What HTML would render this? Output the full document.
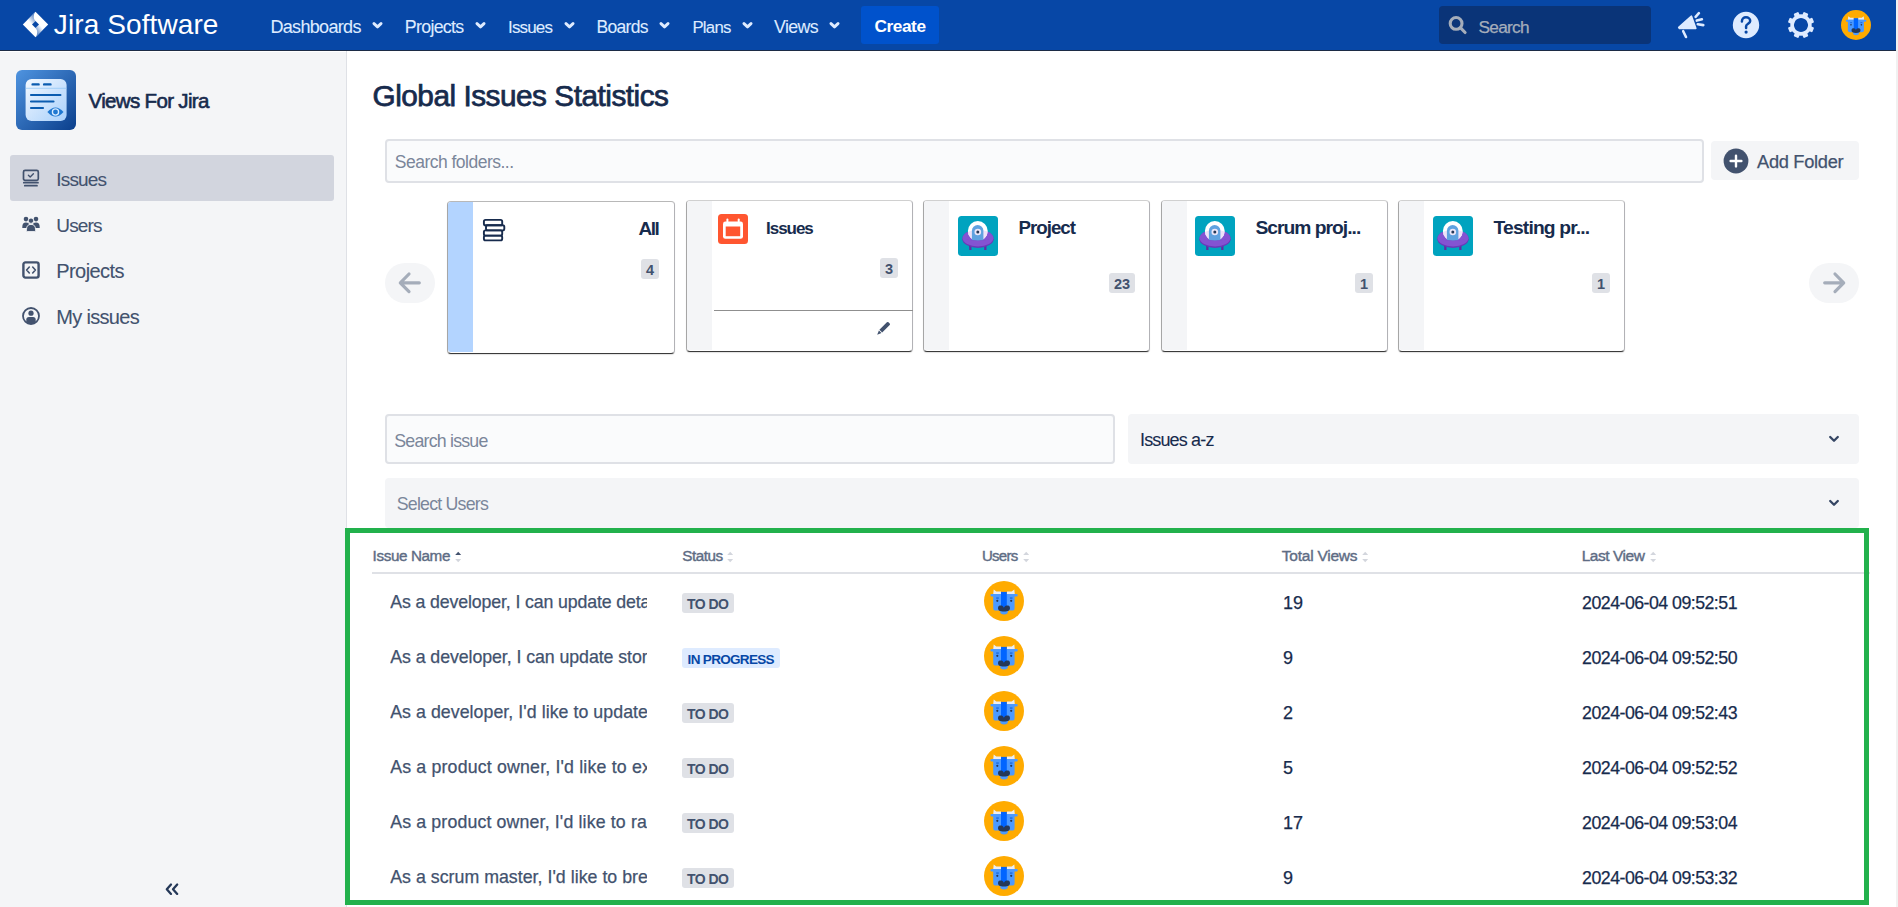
<!DOCTYPE html>
<html><head><meta charset="utf-8"><title>Global Issues Statistics</title>
<style>
html,body{margin:0;padding:0;}
body{width:1898px;height:907px;overflow:hidden;position:relative;background:#fff;font-family:"Liberation Sans", sans-serif;}
.b{position:absolute;display:block;}
.t{position:absolute;white-space:nowrap;line-height:1;}
</style></head><body>
<div class="b" style="left:0px;top:0px;width:1896px;height:50px;background:#0747A6;"></div><div class="b" style="left:0px;top:50px;width:1896px;height:1px;background:#1c2b45;"></div><div class="b" style="left:1896px;top:0px;width:2px;height:907px;background:#f1f1f1;"></div><svg class="b" style="left:21px;top:10px" width="30" height="30" viewBox="21 10 30 30">
<defs>
<linearGradient id="jg1" gradientUnits="userSpaceOnUse" x1="35.2" y1="17.5" x2="29.5" y2="22"><stop offset="0" stop-color="#0747A6" stop-opacity="0.6"/><stop offset="1" stop-color="#0747A6" stop-opacity="0"/></linearGradient>
<linearGradient id="jg2" gradientUnits="userSpaceOnUse" x1="35.8" y1="31.5" x2="41.5" y2="27"><stop offset="0" stop-color="#0747A6" stop-opacity="0.6"/><stop offset="1" stop-color="#0747A6" stop-opacity="0"/></linearGradient>
</defs>
<polygon points="35.5,11.8 48.2,24.5 35.5,37.2 22.8,24.5" fill="#fff"/>
<path d="M35.5 11.8 C33.2 14.5 33.2 18.6 35.5 21 L32 24.5 L22.8 24.5 Z" fill="url(#jg1)"/>
<path d="M35.5 37.2 C37.8 34.5 37.8 30.4 35.5 28 L39 24.5 L48.2 24.5 Z" fill="url(#jg2)"/>
<polygon points="35.5,21 39,24.5 35.5,28 32,24.5" fill="#0747A6"/>
</svg><svg class="b" style="left:372px;top:20px" width="12" height="10" viewBox="0 0 12 10"><path d="M2 3.6 L5.5 6.9 L9 3.6" fill="none" stroke="#DEEBFF" stroke-width="2.9" stroke-linecap="round" stroke-linejoin="round"/></svg><svg class="b" style="left:475px;top:20px" width="12" height="10" viewBox="0 0 12 10"><path d="M2 3.6 L5.5 6.9 L9 3.6" fill="none" stroke="#DEEBFF" stroke-width="2.9" stroke-linecap="round" stroke-linejoin="round"/></svg><svg class="b" style="left:563.7px;top:20px" width="12" height="10" viewBox="0 0 12 10"><path d="M2 3.6 L5.5 6.9 L9 3.6" fill="none" stroke="#DEEBFF" stroke-width="2.9" stroke-linecap="round" stroke-linejoin="round"/></svg><svg class="b" style="left:659.2px;top:20px" width="12" height="10" viewBox="0 0 12 10"><path d="M2 3.6 L5.5 6.9 L9 3.6" fill="none" stroke="#DEEBFF" stroke-width="2.9" stroke-linecap="round" stroke-linejoin="round"/></svg><svg class="b" style="left:741.7px;top:20px" width="12" height="10" viewBox="0 0 12 10"><path d="M2 3.6 L5.5 6.9 L9 3.6" fill="none" stroke="#DEEBFF" stroke-width="2.9" stroke-linecap="round" stroke-linejoin="round"/></svg><svg class="b" style="left:828.6px;top:20px" width="12" height="10" viewBox="0 0 12 10"><path d="M2 3.6 L5.5 6.9 L9 3.6" fill="none" stroke="#DEEBFF" stroke-width="2.9" stroke-linecap="round" stroke-linejoin="round"/></svg><div class="b" style="left:861px;top:6px;width:78px;height:38px;background:#0052CC;border-radius:3px;"></div><div class="b" style="left:1439px;top:6px;width:212px;height:38px;background:#0a3478;border-radius:4px;"></div><svg class="b" style="left:1446px;top:14px" width="22" height="22" viewBox="0 0 22 22"><circle cx="10.1" cy="9.4" r="5.9" fill="none" stroke="#A5ADBA" stroke-width="3.1"/><path d="M14.6 13.9 L19.1 18.5" stroke="#A5ADBA" stroke-width="3.1" stroke-linecap="round"/></svg><svg class="b" style="left:1674px;top:8px" width="34" height="34" viewBox="1674 8 34 34">
<path d="M1678.9 27.4 L1691.3 16.4 L1695.6 28.3 L1679.6 28.3 Z" fill="#DEEBFF" stroke="#DEEBFF" stroke-width="2" stroke-linejoin="round"/>
<path d="M1683.2 31.2 L1686 37" stroke="#DEEBFF" stroke-width="2.6" stroke-linecap="round"/>
<path d="M1695.6 16.8 L1698.9 13.1 M1696.8 20.6 L1701.9 19.3 M1697.8 24.3 L1703.3 25.1" stroke="#DEEBFF" stroke-width="2.6" stroke-linecap="round"/>
</svg><svg class="b" style="left:1729px;top:8px" width="34" height="34" viewBox="1729 8 34 34">
<circle cx="1746" cy="25" r="13.2" fill="#DEEBFF"/>
<path d="M1741.9 21.4 C1741.9 18.8 1743.8 17.3 1746 17.3 C1748.4 17.3 1750.2 18.9 1750.2 21 C1750.2 23.6 1746.1 24 1746.1 26.3 L1746.1 27.9" fill="none" stroke="#0747A6" stroke-width="2.5" stroke-linecap="round"/>
<circle cx="1746.1" cy="32.1" r="1.6" fill="#0747A6"/>
</svg><svg class="b" style="left:1784px;top:8px" width="34" height="34" viewBox="-17 -17 34 34">
<g fill="#DEEBFF"><rect x="-2.6" y="-13.2" width="5.2" height="6" rx="1" transform="rotate(22.5)"/><rect x="-2.6" y="-13.2" width="5.2" height="6" rx="1" transform="rotate(67.5)"/><rect x="-2.6" y="-13.2" width="5.2" height="6" rx="1" transform="rotate(112.5)"/><rect x="-2.6" y="-13.2" width="5.2" height="6" rx="1" transform="rotate(157.5)"/><rect x="-2.6" y="-13.2" width="5.2" height="6" rx="1" transform="rotate(202.5)"/><rect x="-2.6" y="-13.2" width="5.2" height="6" rx="1" transform="rotate(247.5)"/><rect x="-2.6" y="-13.2" width="5.2" height="6" rx="1" transform="rotate(292.5)"/><rect x="-2.6" y="-13.2" width="5.2" height="6" rx="1" transform="rotate(337.5)"/></g>
<circle cx="0" cy="0" r="8.9" fill="none" stroke="#DEEBFF" stroke-width="3.6"/>
</svg><svg class="b" style="left:1841px;top:10px" width="30" height="30" viewBox="0 0 40 40"><circle cx="20" cy="20" r="20" fill="#FFAB00"/>
<path d="M9.2 13.2 L9.7 8.4 L12.3 10.4 L17 10.4 L17 13.2 Z M30.8 13.2 L30.3 8.4 L27.7 10.4 L23 10.4 L23 13.2 Z" fill="#EBECF0"/>
<rect x="6.5" y="13" width="27.2" height="2.6" rx="1" fill="#4C9AFF"/>
<path d="M9.2 13 H30.6 V27 Q30.6 29.6 28 29.6 H12 Q9.2 29.6 9.2 27 Z" fill="#4C9AFF"/>
<rect x="17" y="10.9" width="5.8" height="16.8" fill="#0065FF"/>
<rect x="12.2" y="16.6" width="2.6" height="0.9" fill="#0052CC"/><rect x="25.9" y="16.6" width="2.6" height="0.9" fill="#0052CC"/>
<circle cx="13.3" cy="19.8" r="1.1" fill="#253858"/><circle cx="27.2" cy="19.8" r="1.1" fill="#253858"/>
<path d="M15.8 29.2 H24.3 L23.4 32.6 Q20 34.4 16.6 32.6 Z" fill="#4C9AFF"/>
<path d="M14 27 C14 24.6 15.6 24.3 17.2 24.4 C18.6 24.5 19.3 25.4 19.9 26.8 C20.5 25.4 21.3 24.5 22.7 24.4 C24.4 24.3 26 24.6 26 27 C26 29.4 24.3 30.6 20 30.6 C15.7 30.6 14 29.4 14 27 Z" fill="#253858"/></svg><div class="b" style="left:0px;top:51px;width:346px;height:856px;background:#F4F5F7;"></div><div class="b" style="left:0px;top:51px;width:346px;height:1px;background:#ffffff;"></div><div class="b" style="left:346px;top:51px;width:1px;height:856px;background:#DFE1E6;"></div><svg class="b" style="left:16px;top:70px" width="60" height="60" viewBox="0 0 60 60">
<defs>
<linearGradient id="ag" x1="0" y1="0" x2="1" y2="1"><stop offset="0" stop-color="#4f94e0"/><stop offset="1" stop-color="#0b3f8c"/></linearGradient>
<linearGradient id="cg" x1="0" y1="0" x2="1" y2="1"><stop offset="0" stop-color="#f2f8ff"/><stop offset="1" stop-color="#a9d0fb"/></linearGradient>
</defs>
<rect width="60" height="60" rx="6" fill="url(#ag)"/>
<rect x="9.6" y="9" width="41" height="42" rx="6" fill="url(#cg)"/>
<path d="M9.8 18.3 H50.4" stroke="#8cc4f5" stroke-width="0.7"/>
<path d="M16.6 14.4 H22.6 M28.1 14.4 H34.5" stroke="#0b5cb0" stroke-width="2.4" stroke-linecap="round"/>
<path d="M15 25 H44.4 M15 31.5 H37.5 M15 38 H27" stroke="#0b5cb0" stroke-width="2.2" stroke-linecap="round"/>
<path d="M31.4 42 Q39.5 33 47.5 42 Q39.5 51 31.4 42 Z" fill="#1f78d1"/>
<circle cx="39.5" cy="42" r="3.1" fill="none" stroke="#d8ebff" stroke-width="1.3"/>
</svg><div class="b" style="left:10px;top:155px;width:324px;height:46px;background:#D2D5DE;border-radius:3px;"></div><svg class="b" style="left:21px;top:167px" width="20" height="22" viewBox="0 0 20 22">
<rect x="2.5" y="3.3" width="14.8" height="10" rx="1.6" fill="none" stroke="#42526E" stroke-width="1.7"/>
<path d="M7.4 8.2 L9.2 9.9 L12.4 6.8" fill="none" stroke="#42526E" stroke-width="1.4" stroke-linecap="round" stroke-linejoin="round"/>
<path d="M2.8 15.7 H17 M3.8 18.7 H16" stroke="#42526E" stroke-width="1.7" stroke-linecap="round"/>
</svg><svg class="b" style="left:21px;top:214px" width="20" height="20" viewBox="0 0 20 20">
<circle cx="5" cy="5.1" r="2.3" fill="#42526E"/><circle cx="15" cy="5.1" r="2.3" fill="#42526E"/>
<path d="M1.3 13 Q1.3 8.6 5 8.6 Q8 8.6 8 11 V14 H1.3 Z M18.7 13 Q18.7 8.6 15 8.6 Q12 8.6 12 11 V14 H18.7 Z" fill="#42526E"/>
<circle cx="10" cy="6.7" r="2.7" fill="#42526E" stroke="#F4F5F7" stroke-width="0.9"/>
<path d="M5.5 15.3 Q5.5 10.4 10 10.4 Q14.5 10.4 14.5 15.3 V16.4 Q14.5 17.6 13.3 17.6 H6.7 Q5.5 17.6 5.5 16.4 Z" fill="#42526E" stroke="#F4F5F7" stroke-width="0.9"/>
</svg><svg class="b" style="left:21px;top:260px" width="20" height="20" viewBox="0 0 20 20">
<rect x="2.4" y="2.4" width="15.2" height="15.2" rx="2" fill="none" stroke="#42526E" stroke-width="2.4"/>
<path d="M8.3 7 L5.6 10 L8.3 13 M11.7 7 L14.4 10 L11.7 13" fill="none" stroke="#42526E" stroke-width="1.6" stroke-linecap="round" stroke-linejoin="round"/>
</svg><svg class="b" style="left:21px;top:306px" width="20" height="20" viewBox="0 0 20 20">
<circle cx="10" cy="10" r="8" fill="none" stroke="#42526E" stroke-width="1.8"/>
<circle cx="10" cy="7.2" r="2.6" fill="#42526E"/>
<path d="M5.3 16 V13.6 Q5.3 11 8 11 H12 Q14.7 11 14.7 13.6 V16 Q12.5 18 10 18 Q7.5 18 5.3 16 Z" fill="#42526E"/>
</svg><svg class="b" style="left:163px;top:881px" width="18" height="16" viewBox="0 0 18 16"><path d="M8 3.5 L3.8 8.2 L8 12.9 M14.2 3.5 L10 8.2 L14.2 12.9" fill="none" stroke="#253858" stroke-width="2.3" stroke-linecap="round" stroke-linejoin="round"/></svg><div class="b" style="left:385px;top:139px;width:1319px;height:44px;background:#FAFBFC;border:2px solid #DFE1E6;border-radius:4px;box-sizing:border-box;"></div><div class="b" style="left:1711px;top:141px;width:148px;height:39px;background:#F4F5F7;border-radius:4px;"></div><svg class="b" style="left:1723px;top:148px" width="26" height="26" viewBox="0 0 26 26"><circle cx="13" cy="13" r="12.4" fill="#42526E"/><path d="M13 7.6 V18.4 M7.6 13 H18.4" stroke="#fff" stroke-width="2.4" stroke-linecap="round"/></svg><div class="b" style="left:385px;top:263px;width:50px;height:40px;background:#F4F5F7;border-radius:20px;"></div><svg class="b" style="left:385px;top:263px" width="50" height="40" viewBox="0 0 50 40"><path d="M34.3 19.8 H15.5 M24 11 L15.3 19.8 L24 28.6" fill="none" stroke="#A5ADBA" stroke-width="3.2" stroke-linecap="round" stroke-linejoin="round"/></svg><div class="b" style="left:1809px;top:263px;width:50px;height:40px;background:#F4F5F7;border-radius:20px;"></div><svg class="b" style="left:1809px;top:263px" width="50" height="40" viewBox="0 0 50 40"><path d="M15.7 19.8 H34.5 M26 11 L34.7 19.8 L26 28.6" fill="none" stroke="#A5ADBA" stroke-width="3.2" stroke-linecap="round" stroke-linejoin="round"/></svg><div class="b" style="left:447px;top:201px;width:228px;height:153px;background:#fff;border-style:solid;border-width:1px;border-color:#B8B8B8 #B2B2B6 #3a3a3a #A6A6A6;border-radius:4px;box-sizing:border-box;box-shadow:0 1px 1px rgba(0,0,0,0.12);overflow:hidden;"></div><div class="b" style="left:448px;top:202px;width:25px;height:150px;background:#B3D4FF;border-radius:3px 0 0 3px;"></div><svg class="b" style="left:481px;top:217px" width="26" height="26" viewBox="0 0 26 26">
<g fill="none" stroke="#172B4D" stroke-width="1.9" stroke-linejoin="round">
<rect x="2.9" y="2.9" width="18.3" height="5.4" rx="1.6"/>
<rect x="5" y="8.2" width="18.3" height="5.2" rx="1.6"/>
<rect x="2.9" y="13.4" width="18.3" height="5.2" rx="1.6"/>
<rect x="2.9" y="18.6" width="18.3" height="4.8" rx="1.6"/>
</g></svg><div class="b" style="left:641px;top:259px;width:18px;height:20px;background:#DFE1E6;border-radius:3px;"></div><div class="b" style="left:686px;top:200px;width:227px;height:152px;background:#fff;border-style:solid;border-width:1px;border-color:#D0D0D0 #B2B2B6 #3a3a3a #A6A6A6;border-radius:4px;box-sizing:border-box;box-shadow:0 1px 1px rgba(0,0,0,0.12);overflow:hidden;"></div><div class="b" style="left:687px;top:201px;width:25px;height:149px;background:#F4F5F7;border-radius:3px 0 0 3px;"></div><svg class="b" style="left:718px;top:214px" width="30" height="30" viewBox="0 0 30 30">
<rect width="30" height="30" rx="3.5" fill="#FF5630"/>
<rect x="5" y="7.6" width="20" height="17.2" rx="2.4" fill="#fff"/>
<rect x="7.7" y="12.5" width="14.5" height="9.7" fill="#FF5630"/>
<rect x="8.4" y="4.6" width="2" height="4" rx="1" fill="#fff"/><rect x="19.7" y="4.6" width="2" height="4" rx="1" fill="#fff"/>
</svg><div class="b" style="left:880px;top:258px;width:18px;height:20px;background:#DFE1E6;border-radius:3px;"></div><div class="b" style="left:714px;top:310px;width:199px;height:1px;background:#8f8f8f;"></div><svg class="b" style="left:874px;top:318px" width="20" height="20" viewBox="0 0 20 20">
<path d="M12.9 4.3 Q13.7 3.5 14.5 4.3 L15.7 5.5 Q16.5 6.3 15.7 7.1 L8.2 14.6 L5.4 11.8 Z" fill="#42526E"/>
<path d="M4.9 12.5 L7.5 15.1 L3.2 16.8 Z" fill="#42526E"/>
</svg><div class="b" style="left:923px;top:200px;width:227px;height:152px;background:#fff;border-style:solid;border-width:1px;border-color:#D0D0D0 #B2B2B6 #3a3a3a #A6A6A6;border-radius:4px;box-sizing:border-box;box-shadow:0 1px 1px rgba(0,0,0,0.12);overflow:hidden;"></div><div class="b" style="left:924px;top:201px;width:25px;height:149px;background:#F4F5F7;border-radius:3px 0 0 3px;"></div><svg class="b" style="left:958px;top:216px" width="40" height="40" viewBox="0 0 40 40"><defs><clipPath id="dome958"><circle cx="19.8" cy="15" r="9.9"/></clipPath></defs>
<rect width="40" height="40" rx="3.5" fill="#00A3BF"/>
<rect x="11.2" y="29.4" width="2.3" height="4.6" fill="#5E2CA5"/><rect x="26.2" y="29.4" width="2.3" height="4.6" fill="#5E2CA5"/>
<ellipse cx="20" cy="22.7" rx="15.6" ry="9" fill="#6A39B8"/>
<ellipse cx="20" cy="22.1" rx="15.4" ry="8.4" fill="#8453D2"/>
<circle cx="19.8" cy="15" r="9.9" fill="#ffffff"/>
<ellipse cx="20" cy="22.7" rx="15.6" ry="9" fill="#EEE2F9" clip-path="url(#dome958)"/>
<path d="M13.9 14.85 A5.75 5.75 0 0 1 25.4 14.85 L25.4 26 L13.9 26 Z" fill="#5FA2E0"/>
<circle cx="19.8" cy="16" r="3.3" fill="#EDE7F8"/><circle cx="19.8" cy="16" r="1.5" fill="#253858"/>
<path d="M4.4 22.7 Q20 27 35.6 22.7 A15.6 9 0 0 1 4.4 22.7 Z" fill="#6A39B8"/>
<path d="M4.6 22.1 Q20 27.6 35.4 22.1 A15.4 8.4 0 0 1 4.6 22.1 Z" fill="#8453D2"/></svg><div class="b" style="left:1109px;top:273px;width:26px;height:20px;background:#DFE1E6;border-radius:3px;"></div><div class="b" style="left:1161px;top:200px;width:227px;height:152px;background:#fff;border-style:solid;border-width:1px;border-color:#D0D0D0 #B2B2B6 #3a3a3a #A6A6A6;border-radius:4px;box-sizing:border-box;box-shadow:0 1px 1px rgba(0,0,0,0.12);overflow:hidden;"></div><div class="b" style="left:1162px;top:201px;width:25px;height:149px;background:#F4F5F7;border-radius:3px 0 0 3px;"></div><svg class="b" style="left:1195px;top:216px" width="40" height="40" viewBox="0 0 40 40"><defs><clipPath id="dome1195"><circle cx="19.8" cy="15" r="9.9"/></clipPath></defs>
<rect width="40" height="40" rx="3.5" fill="#00A3BF"/>
<rect x="11.2" y="29.4" width="2.3" height="4.6" fill="#5E2CA5"/><rect x="26.2" y="29.4" width="2.3" height="4.6" fill="#5E2CA5"/>
<ellipse cx="20" cy="22.7" rx="15.6" ry="9" fill="#6A39B8"/>
<ellipse cx="20" cy="22.1" rx="15.4" ry="8.4" fill="#8453D2"/>
<circle cx="19.8" cy="15" r="9.9" fill="#ffffff"/>
<ellipse cx="20" cy="22.7" rx="15.6" ry="9" fill="#EEE2F9" clip-path="url(#dome1195)"/>
<path d="M13.9 14.85 A5.75 5.75 0 0 1 25.4 14.85 L25.4 26 L13.9 26 Z" fill="#5FA2E0"/>
<circle cx="19.8" cy="16" r="3.3" fill="#EDE7F8"/><circle cx="19.8" cy="16" r="1.5" fill="#253858"/>
<path d="M4.4 22.7 Q20 27 35.6 22.7 A15.6 9 0 0 1 4.4 22.7 Z" fill="#6A39B8"/>
<path d="M4.6 22.1 Q20 27.6 35.4 22.1 A15.4 8.4 0 0 1 4.6 22.1 Z" fill="#8453D2"/></svg><div class="b" style="left:1355px;top:273px;width:18px;height:20px;background:#DFE1E6;border-radius:3px;"></div><div class="b" style="left:1398px;top:200px;width:227px;height:152px;background:#fff;border-style:solid;border-width:1px;border-color:#D0D0D0 #B2B2B6 #3a3a3a #A6A6A6;border-radius:4px;box-sizing:border-box;box-shadow:0 1px 1px rgba(0,0,0,0.12);overflow:hidden;"></div><div class="b" style="left:1399px;top:201px;width:25px;height:149px;background:#F4F5F7;border-radius:3px 0 0 3px;"></div><svg class="b" style="left:1433px;top:216px" width="40" height="40" viewBox="0 0 40 40"><defs><clipPath id="dome1433"><circle cx="19.8" cy="15" r="9.9"/></clipPath></defs>
<rect width="40" height="40" rx="3.5" fill="#00A3BF"/>
<rect x="11.2" y="29.4" width="2.3" height="4.6" fill="#5E2CA5"/><rect x="26.2" y="29.4" width="2.3" height="4.6" fill="#5E2CA5"/>
<ellipse cx="20" cy="22.7" rx="15.6" ry="9" fill="#6A39B8"/>
<ellipse cx="20" cy="22.1" rx="15.4" ry="8.4" fill="#8453D2"/>
<circle cx="19.8" cy="15" r="9.9" fill="#ffffff"/>
<ellipse cx="20" cy="22.7" rx="15.6" ry="9" fill="#EEE2F9" clip-path="url(#dome1433)"/>
<path d="M13.9 14.85 A5.75 5.75 0 0 1 25.4 14.85 L25.4 26 L13.9 26 Z" fill="#5FA2E0"/>
<circle cx="19.8" cy="16" r="3.3" fill="#EDE7F8"/><circle cx="19.8" cy="16" r="1.5" fill="#253858"/>
<path d="M4.4 22.7 Q20 27 35.6 22.7 A15.6 9 0 0 1 4.4 22.7 Z" fill="#6A39B8"/>
<path d="M4.6 22.1 Q20 27.6 35.4 22.1 A15.4 8.4 0 0 1 4.6 22.1 Z" fill="#8453D2"/></svg><div class="b" style="left:1592px;top:273px;width:18px;height:20px;background:#DFE1E6;border-radius:3px;"></div><div class="b" style="left:385px;top:414px;width:730px;height:50px;background:#FAFBFC;border:2px solid #DFE1E6;border-radius:4px;box-sizing:border-box;"></div><div class="b" style="left:1128px;top:414px;width:731px;height:50px;background:#F4F5F7;border-radius:4px;"></div><div class="b" style="left:385px;top:478px;width:1474px;height:50px;background:#F4F5F7;border-radius:4px;"></div><svg class="b" style="left:1826px;top:432px" width="16" height="14" viewBox="0 0 16 14"><path d="M4.2 5 L8 8.8 L11.8 5" fill="none" stroke="#344563" stroke-width="2.3" stroke-linecap="round" stroke-linejoin="round"/></svg><svg class="b" style="left:1826px;top:496px" width="16" height="14" viewBox="0 0 16 14"><path d="M4.2 5 L8 8.8 L11.8 5" fill="none" stroke="#344563" stroke-width="2.3" stroke-linecap="round" stroke-linejoin="round"/></svg><div class="b" style="left:372px;top:572px;width:1498px;height:2px;background:#DFE1E6;"></div><svg class="b" style="left:455px;top:549px" width="7" height="14" viewBox="0 0 7 14"><path d="M0.2 6 L3.2 2.8 L6.2 6 Z" fill="#42526E"/><path d="M0.2 10 L3.2 13.2 L6.2 10 Z" fill="#D3D6DD"/></svg><svg class="b" style="left:727px;top:549px" width="7" height="14" viewBox="0 0 7 14"><path d="M0.2 6 L3.2 2.8 L6.2 6 Z" fill="#D3D6DD"/><path d="M0.2 10 L3.2 13.2 L6.2 10 Z" fill="#D3D6DD"/></svg><svg class="b" style="left:1023px;top:549px" width="7" height="14" viewBox="0 0 7 14"><path d="M0.2 6 L3.2 2.8 L6.2 6 Z" fill="#D3D6DD"/><path d="M0.2 10 L3.2 13.2 L6.2 10 Z" fill="#D3D6DD"/></svg><svg class="b" style="left:1362.3px;top:549px" width="7" height="14" viewBox="0 0 7 14"><path d="M0.2 6 L3.2 2.8 L6.2 6 Z" fill="#D3D6DD"/><path d="M0.2 10 L3.2 13.2 L6.2 10 Z" fill="#D3D6DD"/></svg><svg class="b" style="left:1649.8px;top:549px" width="7" height="14" viewBox="0 0 7 14"><path d="M0.2 6 L3.2 2.8 L6.2 6 Z" fill="#D3D6DD"/><path d="M0.2 10 L3.2 13.2 L6.2 10 Z" fill="#D3D6DD"/></svg><div class="b" style="left:682px;top:593px;width:52px;height:20px;background:#DFE1E6;border-radius:3px;"></div><svg class="b" style="left:984px;top:581px" width="40" height="40" viewBox="0 0 40 40"><circle cx="20" cy="20" r="20" fill="#FFAB00"/>
<path d="M9.2 13.2 L9.7 8.4 L12.3 10.4 L17 10.4 L17 13.2 Z M30.8 13.2 L30.3 8.4 L27.7 10.4 L23 10.4 L23 13.2 Z" fill="#EBECF0"/>
<rect x="6.5" y="13" width="27.2" height="2.6" rx="1" fill="#4C9AFF"/>
<path d="M9.2 13 H30.6 V27 Q30.6 29.6 28 29.6 H12 Q9.2 29.6 9.2 27 Z" fill="#4C9AFF"/>
<rect x="17" y="10.9" width="5.8" height="16.8" fill="#0065FF"/>
<rect x="12.2" y="16.6" width="2.6" height="0.9" fill="#0052CC"/><rect x="25.9" y="16.6" width="2.6" height="0.9" fill="#0052CC"/>
<circle cx="13.3" cy="19.8" r="1.1" fill="#253858"/><circle cx="27.2" cy="19.8" r="1.1" fill="#253858"/>
<path d="M15.8 29.2 H24.3 L23.4 32.6 Q20 34.4 16.6 32.6 Z" fill="#4C9AFF"/>
<path d="M14 27 C14 24.6 15.6 24.3 17.2 24.4 C18.6 24.5 19.3 25.4 19.9 26.8 C20.5 25.4 21.3 24.5 22.7 24.4 C24.4 24.3 26 24.6 26 27 C26 29.4 24.3 30.6 20 30.6 C15.7 30.6 14 29.4 14 27 Z" fill="#253858"/></svg><div class="b" style="left:682px;top:648px;width:98px;height:20px;background:#DEEBFF;border-radius:3px;"></div><svg class="b" style="left:984px;top:636px" width="40" height="40" viewBox="0 0 40 40"><circle cx="20" cy="20" r="20" fill="#FFAB00"/>
<path d="M9.2 13.2 L9.7 8.4 L12.3 10.4 L17 10.4 L17 13.2 Z M30.8 13.2 L30.3 8.4 L27.7 10.4 L23 10.4 L23 13.2 Z" fill="#EBECF0"/>
<rect x="6.5" y="13" width="27.2" height="2.6" rx="1" fill="#4C9AFF"/>
<path d="M9.2 13 H30.6 V27 Q30.6 29.6 28 29.6 H12 Q9.2 29.6 9.2 27 Z" fill="#4C9AFF"/>
<rect x="17" y="10.9" width="5.8" height="16.8" fill="#0065FF"/>
<rect x="12.2" y="16.6" width="2.6" height="0.9" fill="#0052CC"/><rect x="25.9" y="16.6" width="2.6" height="0.9" fill="#0052CC"/>
<circle cx="13.3" cy="19.8" r="1.1" fill="#253858"/><circle cx="27.2" cy="19.8" r="1.1" fill="#253858"/>
<path d="M15.8 29.2 H24.3 L23.4 32.6 Q20 34.4 16.6 32.6 Z" fill="#4C9AFF"/>
<path d="M14 27 C14 24.6 15.6 24.3 17.2 24.4 C18.6 24.5 19.3 25.4 19.9 26.8 C20.5 25.4 21.3 24.5 22.7 24.4 C24.4 24.3 26 24.6 26 27 C26 29.4 24.3 30.6 20 30.6 C15.7 30.6 14 29.4 14 27 Z" fill="#253858"/></svg><div class="b" style="left:682px;top:703px;width:52px;height:20px;background:#DFE1E6;border-radius:3px;"></div><svg class="b" style="left:984px;top:691px" width="40" height="40" viewBox="0 0 40 40"><circle cx="20" cy="20" r="20" fill="#FFAB00"/>
<path d="M9.2 13.2 L9.7 8.4 L12.3 10.4 L17 10.4 L17 13.2 Z M30.8 13.2 L30.3 8.4 L27.7 10.4 L23 10.4 L23 13.2 Z" fill="#EBECF0"/>
<rect x="6.5" y="13" width="27.2" height="2.6" rx="1" fill="#4C9AFF"/>
<path d="M9.2 13 H30.6 V27 Q30.6 29.6 28 29.6 H12 Q9.2 29.6 9.2 27 Z" fill="#4C9AFF"/>
<rect x="17" y="10.9" width="5.8" height="16.8" fill="#0065FF"/>
<rect x="12.2" y="16.6" width="2.6" height="0.9" fill="#0052CC"/><rect x="25.9" y="16.6" width="2.6" height="0.9" fill="#0052CC"/>
<circle cx="13.3" cy="19.8" r="1.1" fill="#253858"/><circle cx="27.2" cy="19.8" r="1.1" fill="#253858"/>
<path d="M15.8 29.2 H24.3 L23.4 32.6 Q20 34.4 16.6 32.6 Z" fill="#4C9AFF"/>
<path d="M14 27 C14 24.6 15.6 24.3 17.2 24.4 C18.6 24.5 19.3 25.4 19.9 26.8 C20.5 25.4 21.3 24.5 22.7 24.4 C24.4 24.3 26 24.6 26 27 C26 29.4 24.3 30.6 20 30.6 C15.7 30.6 14 29.4 14 27 Z" fill="#253858"/></svg><div class="b" style="left:682px;top:758px;width:52px;height:20px;background:#DFE1E6;border-radius:3px;"></div><svg class="b" style="left:984px;top:746px" width="40" height="40" viewBox="0 0 40 40"><circle cx="20" cy="20" r="20" fill="#FFAB00"/>
<path d="M9.2 13.2 L9.7 8.4 L12.3 10.4 L17 10.4 L17 13.2 Z M30.8 13.2 L30.3 8.4 L27.7 10.4 L23 10.4 L23 13.2 Z" fill="#EBECF0"/>
<rect x="6.5" y="13" width="27.2" height="2.6" rx="1" fill="#4C9AFF"/>
<path d="M9.2 13 H30.6 V27 Q30.6 29.6 28 29.6 H12 Q9.2 29.6 9.2 27 Z" fill="#4C9AFF"/>
<rect x="17" y="10.9" width="5.8" height="16.8" fill="#0065FF"/>
<rect x="12.2" y="16.6" width="2.6" height="0.9" fill="#0052CC"/><rect x="25.9" y="16.6" width="2.6" height="0.9" fill="#0052CC"/>
<circle cx="13.3" cy="19.8" r="1.1" fill="#253858"/><circle cx="27.2" cy="19.8" r="1.1" fill="#253858"/>
<path d="M15.8 29.2 H24.3 L23.4 32.6 Q20 34.4 16.6 32.6 Z" fill="#4C9AFF"/>
<path d="M14 27 C14 24.6 15.6 24.3 17.2 24.4 C18.6 24.5 19.3 25.4 19.9 26.8 C20.5 25.4 21.3 24.5 22.7 24.4 C24.4 24.3 26 24.6 26 27 C26 29.4 24.3 30.6 20 30.6 C15.7 30.6 14 29.4 14 27 Z" fill="#253858"/></svg><div class="b" style="left:682px;top:813px;width:52px;height:20px;background:#DFE1E6;border-radius:3px;"></div><svg class="b" style="left:984px;top:801px" width="40" height="40" viewBox="0 0 40 40"><circle cx="20" cy="20" r="20" fill="#FFAB00"/>
<path d="M9.2 13.2 L9.7 8.4 L12.3 10.4 L17 10.4 L17 13.2 Z M30.8 13.2 L30.3 8.4 L27.7 10.4 L23 10.4 L23 13.2 Z" fill="#EBECF0"/>
<rect x="6.5" y="13" width="27.2" height="2.6" rx="1" fill="#4C9AFF"/>
<path d="M9.2 13 H30.6 V27 Q30.6 29.6 28 29.6 H12 Q9.2 29.6 9.2 27 Z" fill="#4C9AFF"/>
<rect x="17" y="10.9" width="5.8" height="16.8" fill="#0065FF"/>
<rect x="12.2" y="16.6" width="2.6" height="0.9" fill="#0052CC"/><rect x="25.9" y="16.6" width="2.6" height="0.9" fill="#0052CC"/>
<circle cx="13.3" cy="19.8" r="1.1" fill="#253858"/><circle cx="27.2" cy="19.8" r="1.1" fill="#253858"/>
<path d="M15.8 29.2 H24.3 L23.4 32.6 Q20 34.4 16.6 32.6 Z" fill="#4C9AFF"/>
<path d="M14 27 C14 24.6 15.6 24.3 17.2 24.4 C18.6 24.5 19.3 25.4 19.9 26.8 C20.5 25.4 21.3 24.5 22.7 24.4 C24.4 24.3 26 24.6 26 27 C26 29.4 24.3 30.6 20 30.6 C15.7 30.6 14 29.4 14 27 Z" fill="#253858"/></svg><div class="b" style="left:682px;top:868px;width:52px;height:20px;background:#DFE1E6;border-radius:3px;"></div><svg class="b" style="left:984px;top:856px" width="40" height="40" viewBox="0 0 40 40"><circle cx="20" cy="20" r="20" fill="#FFAB00"/>
<path d="M9.2 13.2 L9.7 8.4 L12.3 10.4 L17 10.4 L17 13.2 Z M30.8 13.2 L30.3 8.4 L27.7 10.4 L23 10.4 L23 13.2 Z" fill="#EBECF0"/>
<rect x="6.5" y="13" width="27.2" height="2.6" rx="1" fill="#4C9AFF"/>
<path d="M9.2 13 H30.6 V27 Q30.6 29.6 28 29.6 H12 Q9.2 29.6 9.2 27 Z" fill="#4C9AFF"/>
<rect x="17" y="10.9" width="5.8" height="16.8" fill="#0065FF"/>
<rect x="12.2" y="16.6" width="2.6" height="0.9" fill="#0052CC"/><rect x="25.9" y="16.6" width="2.6" height="0.9" fill="#0052CC"/>
<circle cx="13.3" cy="19.8" r="1.1" fill="#253858"/><circle cx="27.2" cy="19.8" r="1.1" fill="#253858"/>
<path d="M15.8 29.2 H24.3 L23.4 32.6 Q20 34.4 16.6 32.6 Z" fill="#4C9AFF"/>
<path d="M14 27 C14 24.6 15.6 24.3 17.2 24.4 C18.6 24.5 19.3 25.4 19.9 26.8 C20.5 25.4 21.3 24.5 22.7 24.4 C24.4 24.3 26 24.6 26 27 C26 29.4 24.3 30.6 20 30.6 C15.7 30.6 14 29.4 14 27 Z" fill="#253858"/></svg><div class="b" style="left:345px;top:528px;width:1524px;height:377px;border:5px solid #22B14C;box-sizing:border-box;"></div><div class="t" style="left:53.80px;top:11px;font-size:28.00px;font-weight:400;color:#ffffff;letter-spacing:0.101px;">Jira Software</div><div class="t" style="left:270.40px;top:18px;font-size:18.00px;font-weight:400;color:#DEEBFF;letter-spacing:-0.673px;-webkit-text-stroke:0.1px currentColor;">Dashboards</div><div class="t" style="left:404.80px;top:19px;font-size:17.75px;font-weight:400;color:#DEEBFF;letter-spacing:-0.674px;-webkit-text-stroke:0.1px currentColor;">Projects</div><div class="t" style="left:508.00px;top:19px;font-size:17.00px;font-weight:400;color:#DEEBFF;letter-spacing:-0.827px;-webkit-text-stroke:0.1px currentColor;">Issues</div><div class="t" style="left:596.60px;top:19px;font-size:17.50px;font-weight:400;color:#DEEBFF;letter-spacing:-0.730px;-webkit-text-stroke:0.1px currentColor;">Boards</div><div class="t" style="left:692.40px;top:20px;font-size:16.75px;font-weight:400;color:#DEEBFF;letter-spacing:-0.725px;-webkit-text-stroke:0.1px currentColor;">Plans</div><div class="t" style="left:774.00px;top:19px;font-size:17.75px;font-weight:400;color:#DEEBFF;letter-spacing:-0.607px;-webkit-text-stroke:0.1px currentColor;">Views</div><div class="t" style="left:874.50px;top:18px;font-size:17.25px;font-weight:700;color:#ffffff;letter-spacing:-0.439px;">Create</div><div class="t" style="left:1478.50px;top:19px;font-size:17.25px;font-weight:400;color:#A5ADBA;letter-spacing:-0.732px;-webkit-text-stroke:0.25px currentColor;">Search</div><div class="t" style="left:88.60px;top:91px;font-size:20.50px;font-weight:400;color:#172B4D;letter-spacing:-0.668px;-webkit-text-stroke:0.6px currentColor;">Views For Jira</div><div class="t" style="left:56.30px;top:170px;font-size:19.00px;font-weight:400;color:#42526E;letter-spacing:-0.843px;-webkit-text-stroke:0.1px currentColor;">Issues</div><div class="t" style="left:56.30px;top:216px;font-size:19.00px;font-weight:400;color:#42526E;letter-spacing:-0.829px;-webkit-text-stroke:0.1px currentColor;">Users</div><div class="t" style="left:56.30px;top:261px;font-size:20.00px;font-weight:400;color:#42526E;letter-spacing:-0.592px;-webkit-text-stroke:0.1px currentColor;">Projects</div><div class="t" style="left:56.30px;top:307px;font-size:20.00px;font-weight:400;color:#42526E;letter-spacing:-0.688px;-webkit-text-stroke:0.1px currentColor;">My issues</div><div class="t" style="left:372.50px;top:81px;font-size:29.75px;font-weight:400;color:#172B4D;letter-spacing:-0.480px;-webkit-text-stroke:0.75px currentColor;">Global Issues Statistics</div><div class="t" style="left:394.80px;top:154px;font-size:17.50px;font-weight:400;color:#7A869A;letter-spacing:-0.514px;">Search folders...</div><div class="t" style="left:1757.00px;top:153px;font-size:18.25px;font-weight:400;color:#42526E;letter-spacing:-0.297px;-webkit-text-stroke:0.25px currentColor;">Add Folder</div><div class="t" style="left:638.50px;top:219px;font-size:19.00px;font-weight:700;color:#172B4D;letter-spacing:-1.541px;">All</div><div class="t" style="left:0.00px;top:263px;font-size:14.50px;font-weight:700;color:#42526E;left:641px;width:18px;text-align:center;">4</div><div class="t" style="left:766.00px;top:220px;font-size:17.00px;font-weight:700;color:#172B4D;letter-spacing:-1.025px;">Issues</div><div class="t" style="left:0.00px;top:262px;font-size:14.50px;font-weight:700;color:#42526E;left:880px;width:18px;text-align:center;">3</div><div class="t" style="left:1018.40px;top:219px;font-size:18.75px;font-weight:700;color:#172B4D;letter-spacing:-0.994px;">Project</div><div class="t" style="left:0.00px;top:277px;font-size:14.50px;font-weight:700;color:#42526E;left:1109px;width:26px;text-align:center;">23</div><div class="t" style="left:1255.50px;top:218px;font-size:19.25px;font-weight:700;color:#172B4D;letter-spacing:-0.989px;">Scrum proj...</div><div class="t" style="left:0.00px;top:277px;font-size:14.50px;font-weight:700;color:#42526E;left:1355px;width:18px;text-align:center;">1</div><div class="t" style="left:1493.60px;top:218px;font-size:19.25px;font-weight:700;color:#172B4D;letter-spacing:-0.833px;">Testing pr...</div><div class="t" style="left:0.00px;top:277px;font-size:14.50px;font-weight:700;color:#42526E;left:1592px;width:18px;text-align:center;">1</div><div class="t" style="left:394.30px;top:433px;font-size:17.75px;font-weight:400;color:#7A869A;letter-spacing:-0.783px;">Search issue</div><div class="t" style="left:1140.00px;top:431px;font-size:18.00px;font-weight:400;color:#172B4D;letter-spacing:-0.848px;-webkit-text-stroke:0.1px currentColor;">Issues a-z</div><div class="t" style="left:396.80px;top:496px;font-size:17.75px;font-weight:400;color:#7A869A;letter-spacing:-0.783px;">Select Users</div><div class="t" style="left:372.60px;top:548px;font-size:15.25px;font-weight:400;color:#5E6C84;letter-spacing:-0.396px;-webkit-text-stroke:0.4px currentColor;">Issue Name</div><div class="t" style="left:682.20px;top:548px;font-size:15.25px;font-weight:400;color:#5E6C84;letter-spacing:-0.447px;-webkit-text-stroke:0.4px currentColor;">Status</div><div class="t" style="left:981.90px;top:548px;font-size:15.00px;font-weight:400;color:#5E6C84;letter-spacing:-0.718px;-webkit-text-stroke:0.4px currentColor;">Users</div><div class="t" style="left:1281.80px;top:548px;font-size:15.50px;font-weight:400;color:#5E6C84;letter-spacing:-0.242px;-webkit-text-stroke:0.4px currentColor;">Total Views</div><div class="t" style="left:1581.70px;top:548px;font-size:15.50px;font-weight:400;color:#5E6C84;letter-spacing:-0.465px;-webkit-text-stroke:0.4px currentColor;">Last View</div><div class="t" style="left:390.20px;top:594px;font-size:17.75px;font-weight:400;color:#42526E;letter-spacing:-0.131px;-webkit-text-stroke:0.25px currentColor;width:256.8px;overflow:hidden;">As a developer, I can update details on an item</div><div class="t" style="left:687.10px;top:597px;font-size:14.00px;font-weight:700;color:#42526E;letter-spacing:-0.545px;">TO DO</div><div class="t" style="left:1283.00px;top:594px;font-size:18.00px;font-weight:400;color:#172B4D;-webkit-text-stroke:0.25px currentColor;">19</div><div class="t" style="left:1582.10px;top:595px;font-size:17.75px;font-weight:400;color:#172B4D;letter-spacing:-0.523px;-webkit-text-stroke:0.25px currentColor;">2024-06-04 09:52:51</div><div class="t" style="left:390.20px;top:649px;font-size:17.75px;font-weight:400;color:#42526E;letter-spacing:-0.063px;-webkit-text-stroke:0.25px currentColor;width:256.8px;overflow:hidden;">As a developer, I can update story and task status</div><div class="t" style="left:687.60px;top:653px;font-size:13.50px;font-weight:700;color:#0747A6;letter-spacing:-0.677px;">IN PROGRESS</div><div class="t" style="left:1283.00px;top:649px;font-size:18.00px;font-weight:400;color:#172B4D;-webkit-text-stroke:0.25px currentColor;">9</div><div class="t" style="left:1582.10px;top:650px;font-size:17.75px;font-weight:400;color:#172B4D;letter-spacing:-0.523px;-webkit-text-stroke:0.25px currentColor;">2024-06-04 09:52:50</div><div class="t" style="left:390.20px;top:704px;font-size:17.75px;font-weight:400;color:#42526E;letter-spacing:0.052px;-webkit-text-stroke:0.25px currentColor;width:256.8px;overflow:hidden;">As a developer, I'd like to update story status</div><div class="t" style="left:687.10px;top:707px;font-size:14.00px;font-weight:700;color:#42526E;letter-spacing:-0.545px;">TO DO</div><div class="t" style="left:1283.00px;top:704px;font-size:18.00px;font-weight:400;color:#172B4D;-webkit-text-stroke:0.25px currentColor;">2</div><div class="t" style="left:1582.10px;top:705px;font-size:17.75px;font-weight:400;color:#172B4D;letter-spacing:-0.523px;-webkit-text-stroke:0.25px currentColor;">2024-06-04 09:52:43</div><div class="t" style="left:390.20px;top:759px;font-size:17.75px;font-weight:400;color:#42526E;letter-spacing:0.172px;-webkit-text-stroke:0.25px currentColor;width:256.8px;overflow:hidden;">As a product owner, I'd like to express work</div><div class="t" style="left:687.10px;top:762px;font-size:14.00px;font-weight:700;color:#42526E;letter-spacing:-0.545px;">TO DO</div><div class="t" style="left:1283.00px;top:759px;font-size:18.00px;font-weight:400;color:#172B4D;-webkit-text-stroke:0.25px currentColor;">5</div><div class="t" style="left:1582.10px;top:760px;font-size:17.75px;font-weight:400;color:#172B4D;letter-spacing:-0.523px;-webkit-text-stroke:0.25px currentColor;">2024-06-04 09:52:52</div><div class="t" style="left:390.20px;top:814px;font-size:17.75px;font-weight:400;color:#42526E;letter-spacing:0.140px;-webkit-text-stroke:0.25px currentColor;width:256.8px;overflow:hidden;">As a product owner, I'd like to rank stories</div><div class="t" style="left:687.10px;top:817px;font-size:14.00px;font-weight:700;color:#42526E;letter-spacing:-0.545px;">TO DO</div><div class="t" style="left:1283.00px;top:814px;font-size:18.00px;font-weight:400;color:#172B4D;-webkit-text-stroke:0.25px currentColor;">17</div><div class="t" style="left:1582.10px;top:815px;font-size:17.75px;font-weight:400;color:#172B4D;letter-spacing:-0.523px;-webkit-text-stroke:0.25px currentColor;">2024-06-04 09:53:04</div><div class="t" style="left:390.20px;top:869px;font-size:17.75px;font-weight:400;color:#42526E;letter-spacing:0.025px;-webkit-text-stroke:0.25px currentColor;width:256.8px;overflow:hidden;">As a scrum master, I'd like to break stories</div><div class="t" style="left:687.10px;top:872px;font-size:14.00px;font-weight:700;color:#42526E;letter-spacing:-0.545px;">TO DO</div><div class="t" style="left:1283.00px;top:869px;font-size:18.00px;font-weight:400;color:#172B4D;-webkit-text-stroke:0.25px currentColor;">9</div><div class="t" style="left:1582.10px;top:870px;font-size:17.75px;font-weight:400;color:#172B4D;letter-spacing:-0.523px;-webkit-text-stroke:0.25px currentColor;">2024-06-04 09:53:32</div>
</body></html>
